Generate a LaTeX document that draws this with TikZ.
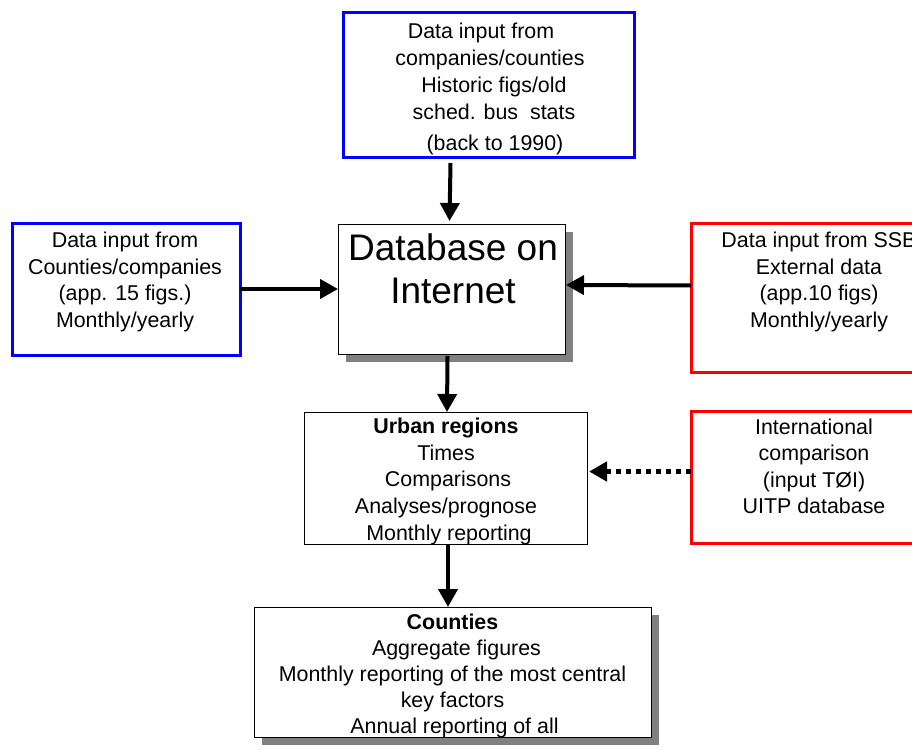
\documentclass[tikz,border=0pt]{standalone}
\usepackage{fontspec}
\setmainfont{Liberation Sans}
\usetikzlibrary{arrows.meta,calc,shadows}
\tikzset{
  boxbase/.style={inner sep=0pt, outer sep=0pt, anchor=north west},
  bluebox/.style={boxbase, draw=blue, line width=3pt},
  redbox/.style={boxbase, draw=red, line width=3pt},
  plainbox/.style={boxbase, draw=black, line width=1pt, fill=white},
  shadowbox/.style={plainbox, general shadow={fill=black!50, shadow xshift=8pt, shadow yshift=-8pt}},
  txt/.style={font=\fontsize{21.4}{26.8}\selectfont, align=center, inner sep=0pt, anchor=north},
  arr/.style={-{Triangle[length=18pt,width=19pt]}, line width=4pt},
  dotarr/.style={arr, line width=4.5pt, dash pattern=on 5pt off 5pt}
}
\begin{document}
\begin{tikzpicture}[x=1pt,y=-1pt]
\useasboundingbox (0,0) rectangle (912,749);
% boxes
\node[bluebox, minimum width=291pt, minimum height=144pt] (top) at (343,13) {};
\node[bluebox, minimum width=228pt, minimum height=132pt] (left) at (12,223) {};
\node[shadowbox, minimum width=227pt, minimum height=130pt] (db) at (338,224) {};
\node[redbox, minimum width=254pt, minimum height=149pt] (ssb) at (691,223) {};
\node[plainbox, minimum width=283pt, minimum height=132pt] (urban) at (304,412) {};
\node[redbox, minimum width=254pt, minimum height=132pt] (intl) at (691,411) {};
\node[shadowbox, minimum width=397pt, minimum height=130pt] (counties) at (254,607) {};
% texts
\node[txt] (topT) at (490,23.2) {Data input from\hspace*{18pt}\\companies/counties\\\hspace*{8pt}Historic figs/old\\\hspace*{8pt}sched. bus\ \ stats\\[4pt]\hspace*{10pt}(back to 1990)};
\node[txt] (leftT) at (125,231.5) {Data input from\\Counties/companies\\(app. 15 figs.)\\Monthly/yearly};
\node[txt] (ssbT) at (819,231.5) {Data input from SSB\\External data\\(app.10 figs)\\Monthly/yearly};
\node[txt, font=\fontsize{37}{43}\selectfont] (dbT) at (453,233.3) {Database on\\Internet};
\node[txt, font=\fontsize{21.4}{26.75}\selectfont] (urbanT) at (446,417.7) {\textbf{Urban regions}\\Times\hspace*{10pt}\\\hspace*{4pt}Comparisons\\Analyses/prognose\hspace*{6pt}\\\hspace*{6pt}Monthly reporting};
\node[txt, font=\fontsize{21.4}{26.3}\selectfont] (intlT) at (814,418.7) {International\\comparison\\(input TØI)\\UITP database};
\node[txt, font=\fontsize{21.4}{26.2}\selectfont] (countiesT) at (452.5,613.3) {\textbf{Counties}\\\hspace*{8pt}Aggregate figures\\Monthly reporting of the most central\\key factors\\\hspace*{4pt}Annual reporting of all};
% connectors
\draw[arr] ($(top.south)+(-38,6)$) -- ($(db.north)+(-2,-3)$);
\draw[arr] (left.east) -- (db.west);
\draw[arr] ($(ssb.west)+(0,-12)$) -- ($(db.east)+(1,-4)$);
\draw[arr] ($(db.south)+(-4,2)$) -- ($(urban.north)+(1.5,0)$);
\draw[dotarr] ($(intl.west)+(0,-5.5)$) -- ($(urban.east)+(2,-6.5)$);
\draw[arr] ($(urban.south)+(2.5,0)$) -- ($(counties.north)+(-4.5,0)$);
\end{tikzpicture}
\end{document}
